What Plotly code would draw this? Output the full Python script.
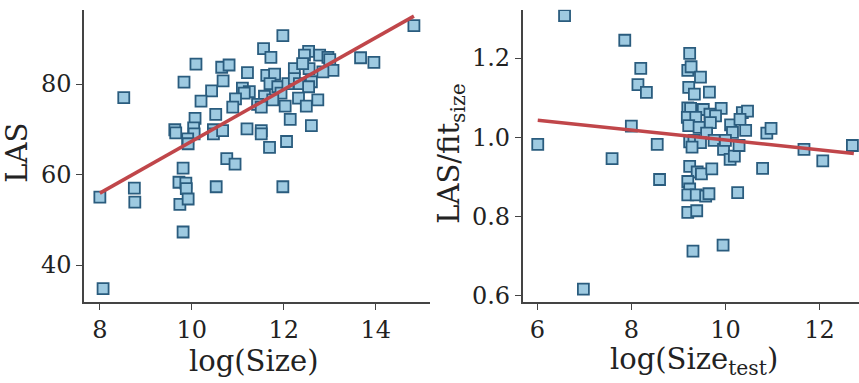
import plotly.graph_objects as go

# ---- Left panel: log(Size) vs LAS ----
size_log = [14.83, 11.98, 11.56, 11.72, 12.54, 12.45, 12.78, 12.96, 13.0, 13.67, 13.96,
            13.07, 12.85, 12.55, 12.23, 12.41, 10.09, 10.65, 10.81, 11.21, 11.63, 11.80,
            9.83, 10.68, 8.52, 10.43, 10.20, 11.10, 11.25, 11.14, 11.70, 11.87, 11.94,
            12.09, 12.23, 12.34, 12.60, 12.54, 11.58, 11.76, 10.95, 10.89, 11.43, 11.51,
            12.03, 12.32, 12.49, 12.74, 10.52, 10.07, 10.04, 9.63, 9.65, 10.05, 9.91,
            9.92, 10.47, 10.47, 10.67, 11.2, 11.51, 11.51, 12.14, 12.60, 12.06, 11.69,
            10.76, 10.94, 9.81, 9.72, 9.87, 9.88, 8.75, 8.76, 10.53, 11.98, 9.74, 9.92,
            8.0, 9.81, 8.07]
las = [92.9, 90.7, 87.8, 85.9, 87.2, 86.4, 86.4, 85.9, 85.4, 85.8, 84.8,
       83.0, 82.7, 83.4, 83.4, 84.5, 84.4, 83.7, 84.2, 82.5, 81.9, 82.2,
       80.4, 80.7, 77.0, 78.5, 76.2, 79.1, 78.3, 78.0, 80.1, 79.4, 78.0,
       80.1, 81.2, 80.1, 80.5, 79.4, 77.3, 76.5, 76.7, 74.9, 75.5, 74.9,
       75.1, 76.9, 75.1, 76.5, 73.3, 72.4, 70.3, 69.9, 69.2, 69.0, 67.9,
       66.8, 69.9, 69.0, 69.7, 70.1, 69.7, 69.0, 72.2, 70.8, 67.3, 66.0,
       63.5, 62.3, 61.4, 58.3, 58.1, 56.9, 57.0, 53.9, 57.3, 57.3, 53.4, 54.6,
       55.0, 47.3, 34.8]
fit1_x = [8.0, 14.83]
fit1_y = [55.9, 95.0]

# ---- Right panel: log(Size_test) vs LAS/fit_size ----
test_log = [6.01, 6.58, 6.98, 7.59, 7.86, 8.0, 8.20, 8.14, 8.32, 8.55, 8.60, 9.24, 9.20,
            9.27, 9.47, 9.22, 9.34, 9.66, 9.20, 9.26, 9.53, 9.91, 9.19, 9.37, 9.67, 9.79,
            9.22, 9.44, 9.68, 9.60, 10.11, 10.15, 10.36, 10.47, 10.31, 10.43, 10.88, 10.97,
            9.24, 9.33, 9.47, 9.76, 9.29, 9.96, 10.10, 10.19, 10.29, 10.0, 9.24, 9.40,
            9.49, 9.71, 9.20, 9.24, 9.20, 9.38, 9.58, 9.65, 10.26, 9.20, 9.39, 9.31, 9.95,
            10.79, 11.67, 12.07, 12.70]
las_ratio = [0.982, 1.307, 0.616, 0.946, 1.245, 1.028, 1.174, 1.133, 1.113, 0.982, 0.893,
             1.212, 1.169, 1.178, 1.152, 1.126, 1.109, 1.114, 1.074, 1.073, 1.070, 1.073,
             1.050, 1.050, 1.058, 1.054, 1.029, 1.025, 1.037, 1.010, 1.031, 1.012, 1.062,
             1.066, 1.045, 1.017, 1.010, 1.022, 0.988, 0.992, 0.986, 0.992, 0.975, 0.969,
             0.944, 0.952, 0.979, 0.992, 0.926, 0.912, 0.907, 0.920, 0.888, 0.869, 0.854,
             0.854, 0.851, 0.857, 0.860, 0.810, 0.814, 0.712, 0.727, 0.921, 0.969, 0.940,
             0.979]
fit2_x = [6.01, 12.73]
fit2_y = [1.043, 0.959]

x1_ticks = [8, 10, 12, 14]
y1_ticks = [40, 60, 80]
x2_ticks = [6, 8, 10, 12]
y2_ticks = [0.6, 0.8, 1.0, 1.2]

FONT = "DejaVu Serif"
MFILL = "#9ecae1"
MEDGE = "#2a5c7e"
LINE = "#c0464a"
AX = "#444444"

W, H = 859, 383
marker = dict(symbol="square", size=11, color=MFILL, line=dict(color=MEDGE, width=1.8))

fig = go.Figure()
fig.add_trace(go.Scatter(x=size_log, y=las, mode="markers", marker=marker,
                         xaxis="x", yaxis="y", showlegend=False))
fig.add_trace(go.Scatter(x=fit1_x, y=fit1_y, mode="lines", line=dict(color=LINE, width=3.5),
                         xaxis="x", yaxis="y", showlegend=False))
fig.add_trace(go.Scatter(x=test_log, y=las_ratio, mode="markers", marker=marker,
                         xaxis="x2", yaxis="y2", showlegend=False))
fig.add_trace(go.Scatter(x=fit2_x, y=fit2_y, mode="lines", line=dict(color=LINE, width=3.5),
                         xaxis="x2", yaxis="y2", showlegend=False))

ydom = [(H - 308.3) / H, (H - 10) / H]
axcommon = dict(showgrid=False, zeroline=False, showline=True, linecolor=AX, linewidth=1.5,
                ticks="outside", ticklen=6, tickwidth=1.2, tickcolor=AX,
                tickfont=dict(family=FONT, size=24, color="#222222"), mirror=False)

fig.update_layout(
    width=W, height=H, margin=dict(l=0, r=0, t=0, b=0),
    paper_bgcolor="white", plot_bgcolor="white",
    xaxis=dict(domain=[84 / W, 430 / W], range=[7.655, 15.18], tickvals=x1_ticks,
               anchor="y", **axcommon),
    yaxis=dict(domain=ydom, range=[31.87, 96.4], tickvals=y1_ticks, anchor="x", **axcommon),
    xaxis2=dict(domain=[522.7 / W, 1.0], range=[5.69, 12.84], tickvals=x2_ticks,
                anchor="y2", **axcommon),
    yaxis2=dict(domain=ydom, range=[0.5837, 1.322], tickvals=y2_ticks,
                tickformat=".1f", anchor="x2", **axcommon),
)

tfont = dict(family=FONT, size=29, color="#222222")
fig.add_annotation(text="LAS", x=17 / W, y=(H - 156) / H, xref="paper", yref="paper",
                   textangle=-90, showarrow=False, font=tfont, xanchor="center", yanchor="middle")
fig.add_annotation(text="LAS/fit<sub>size</sub>", x=451 / W, y=(H - 157) / H, xref="paper",
                   yref="paper", textangle=-90, showarrow=False, font=tfont,
                   xanchor="center", yanchor="middle")
fig.add_annotation(text="log(Size)", x=254 / W, y=(H - 369) / H, xref="paper", yref="paper",
                   showarrow=False, font=tfont, xanchor="center", yanchor="middle")
fig.add_annotation(text="log(Size<sub>test</sub>)", x=694 / W, y=(H - 369) / H, xref="paper",
                   yref="paper", showarrow=False, font=tfont, xanchor="center", yanchor="middle")

fig.write_html("out.html")
